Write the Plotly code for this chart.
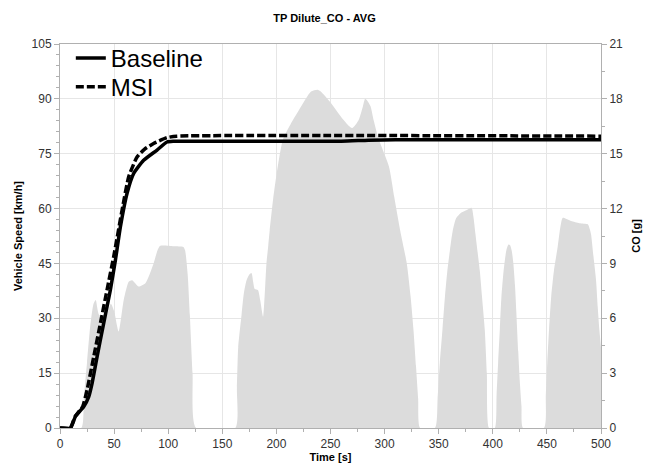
import plotly.graph_objects as go

# Vehicle speed (grey area, left axis) [km/h]
speed_t = [0, 19.7, 22, 25, 28, 31, 33, 36, 42, 47, 50, 54.2, 58.9, 63.5, 66.6, 72.7, 78.9, 86.5, 90, 92.6,
           105, 114, 115.6, 118, 120, 122.5, 125.7,
           162, 163.5, 164.7, 167.8, 170, 172.4, 175, 177, 178.5, 180, 183, 185, 187.7, 189.5, 190.8, 192.5,
           193.8, 197, 201, 206, 213, 221, 232, 238, 241, 250, 260, 270, 276, 280, 282, 284, 287, 290, 294.5,
           304, 309, 314.4, 320.5, 324, 326.7, 329, 331, 332.8,
           346.6, 349, 351, 353.5, 355.8, 358, 360.4, 363, 366, 371, 376, 380.4, 382, 384, 386, 388, 390,
           392.6, 394.5, 396.6,
           401.9, 403.5, 404.9, 406.5, 408, 410, 412.6, 414.5, 416, 417.5, 419, 420.5, 421.8, 423.5, 424.9,
           426.5, 428,
           447.3, 449, 450.3, 452, 454, 456.5, 460, 462.5, 464.7, 472.4, 480, 487.8, 489.5, 490.8, 493,
           495.4, 497, 498.5, 500]
speed_v = [0, 0, 8, 18, 28, 34, 35, 31, 30, 34, 32, 26.4, 35, 40, 40.4, 38.7, 39.6, 45, 48.5, 49.8,
           49.7, 49.5, 48.6, 42, 31, 15, 0,
           0, 11, 22, 31, 37, 40.4, 42, 42.4, 40, 38, 37.7, 35, 30.4, 38, 45, 50,
           54, 62.6, 71, 78.9, 83, 87, 92, 92.5, 92, 89, 85, 82, 84.2, 88, 90, 89.5, 88, 84, 79,
           71.5, 63, 54, 45, 36, 26.8, 17, 8, 0,
           0, 8, 17.7, 27, 36, 43, 48.7, 54, 57.3, 58.9, 59.6, 60.2, 58, 53, 48, 43, 36,
           26.8, 15, 0,
           0, 9, 17.7, 27, 36, 43, 48.7, 50.2, 50, 48.5, 45, 39, 31.4, 21, 13,
           6, 0,
           0, 9, 17.7, 27, 36, 43, 49.6, 55, 57.5, 56.6, 56, 55.7, 54.5, 53, 47,
           40.5, 33, 26.8, 22]

# Cumulative CO (lines, right axis) [g]
base_t = [0, 9.7, 14.3, 22, 26.6, 29.7, 34.3, 40.4, 46.6, 51.2, 55.8, 62, 68.1, 77.3, 89.7, 98.9, 105,
          260, 285, 310, 500]
base_co = [0, 0, 0.64, 1.18, 1.72, 2.46, 3.9, 5.74, 7.56, 9.18, 11.0, 12.84, 13.92, 14.64, 15.2, 15.64, 15.68,
           15.68, 15.74, 15.76, 15.76]
msi_t = [0, 9.5, 14, 21, 25.1, 31.2, 37.4, 43.5, 49.6, 57.4, 63.5, 71.2, 78, 86.5, 98.9, 108, 500]
msi_co = [0, 0, 0.64, 1.18, 2.1, 3.9, 5.74, 7.56, 9.36, 11.92, 13.74, 14.82, 15.24, 15.56, 15.88, 15.96, 15.96]

title_text = "TP Dilute_CO - AVG"
font_family = "Liberation Sans, Arial, sans-serif"
tick_col = "#333333"
grid_col = "#e6e6e6"
axis_col = "#b0b0b0"

fig = go.Figure()
fig.add_trace(go.Scatter(x=speed_t, y=speed_v, mode="lines", fill="tozeroy",
                         line=dict(width=0, color="#dcdcdc", shape="spline", smoothing=0.6),
                         fillcolor="#dcdcdc",
                         showlegend=False, yaxis="y", hoverinfo="skip"))
fig.add_trace(go.Scatter(x=base_t, y=base_co, mode="lines", name="Baseline", legend="legend",
                         line=dict(color="black", width=3.5, shape="spline", smoothing=0.5), yaxis="y2"))
fig.add_trace(go.Scatter(x=msi_t, y=msi_co, mode="lines", name="MSI", legend="legend2",
                         line=dict(color="black", width=3.5, dash="8px,3px", shape="spline", smoothing=0.5),
                         yaxis="y2"))

legend_style = dict(xanchor="left", yanchor="top", bgcolor="rgba(0,0,0,0)",
                    font=dict(size=24, color="black", family=font_family), itemwidth=30)

fig.update_layout(
    width=649, height=465,
    margin=dict(l=59.5, r=47.5, t=44, b=36.7),
    paper_bgcolor="white", plot_bgcolor="white",
    font=dict(family=font_family, size=12, color=tick_col),
    title=dict(text="<b>" + title_text + "</b>", x=0.5, xanchor="center", y=0.962, yanchor="middle",
               font=dict(size=11, color="black", family=font_family)),
    showlegend=True,
    legend=dict(x=0.02, y=1.0213, **legend_style),
    legend2=dict(x=0.02, y=0.946, **legend_style),
    xaxis=dict(range=[0, 500], tickvals=[0, 50, 100, 150, 200, 250, 300, 350, 400, 450, 500],
               showgrid=True, gridcolor=grid_col, gridwidth=1, automargin=False,
               showline=True, linecolor=axis_col, linewidth=1, mirror=True,
               ticks="outside", ticklen=5, tickcolor=axis_col, zeroline=False,
               minor=dict(dtick=25, ticks="outside", ticklen=3, tickcolor=axis_col, showgrid=False),
               tickfont=dict(size=12, color=tick_col),
               title=dict(text="<b>Time [s]</b>", standoff=1, font=dict(size=11, color="black"))),
    yaxis=dict(range=[0, 105], tickvals=[0, 15, 30, 45, 60, 75, 90, 105],
               showgrid=True, gridcolor=grid_col, gridwidth=1, automargin=False,
               showline=True, linecolor=axis_col, linewidth=1, mirror=True,
               ticks="outside", ticklen=5, tickcolor=axis_col, zeroline=False,
               minor=dict(dtick=3, ticks="outside", ticklen=3, tickcolor=axis_col, showgrid=False),
               tickfont=dict(size=12, color=tick_col),
               title=dict(text="<b>Vehicle Speed [km/h]</b>", standoff=6, font=dict(size=11, color="black"))),
    yaxis2=dict(range=[0, 21], tickvals=[0, 3, 6, 9, 12, 15, 18, 21], overlaying="y", side="right",
                showgrid=False, showline=True, linecolor=axis_col, linewidth=1, automargin=False,
                ticks="outside", ticklen=5, tickcolor=axis_col, zeroline=False,
                minor=dict(dtick=1.5, ticks="outside", ticklen=3, tickcolor=axis_col, showgrid=False),
                tickfont=dict(size=12, color=tick_col),
                title=dict(text="<b>CO [g]</b>", standoff=10, font=dict(size=11, color="black"))),
)

fig.write_html("out.html")
